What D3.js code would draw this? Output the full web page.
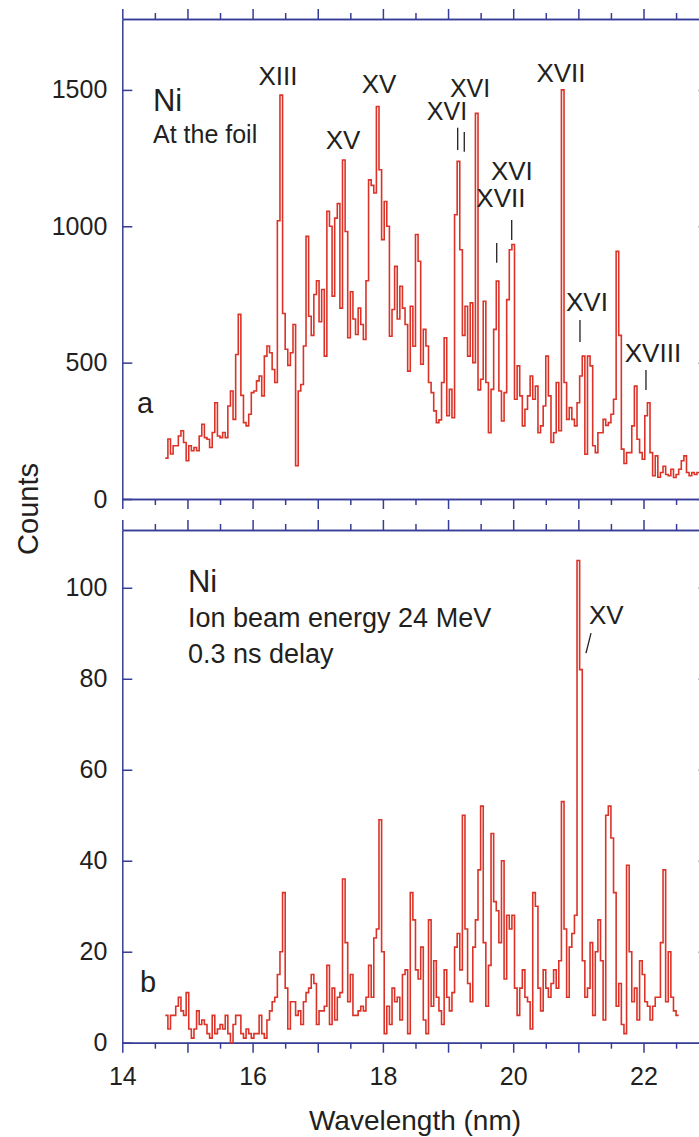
<!DOCTYPE html>
<html><head><meta charset="utf-8">
<script src="https://cdn.jsdelivr.net/npm/d3@7"></script>
<style>body{margin:0;background:#fff}svg{display:block}</style>
</head><body><svg id="c" width="699" height="1137"></svg>
<script>
// ---- data ----
const binStart = 14.66;   // nm, first bin start
const binWidth = 0.04;    // nm
const countsA = [150,220,165,195,195,231,250,207,140,195,177,189,177,231,274,225,219,189,244,353,
231,225,244,225,341,396,292,530,677,380,280,268,311,390,396,433,451,378,524,561,
536,475,427,1020,1481,680,549,490,536,640,122,396,420,561,963,670,600,750,800,650,
768,524,1055,1000,744,1030,1083,700,1243,981,591,760,660,603,700,640,585,800,1170,1150,
1122,1439,1207,951,1091,1000,597,695,853,660,780,700,640,469,707,560,970,872,494,622,
561,427,390,323,280,290,427,591,305,402,298,1042,1238,914,600,707,524,719,500,1414,
400,439,725,427,243,402,622,799,396,286,390,731,914,933,366,488,378,268,329,378,
451,366,414,243,268,341,524,378,207,243,427,250,1500,427,292,335,292,268,353,451,
524,164,524,488,195,170,243,243,292,270,280,311,366,908,600,183,130,170,170,268,
414,219,170,146,305,353,170,85,158,80,97,120,90,85,109,79,90,109,140,158,
97,85,97,90,97,97];
const countsB = [6,3,6,6,8,10,7,6,11,3,1,3,7,4,5,4,2,1,6,2,
3,4,3,6,2,0,4,6,6,2,1,3,2,1,2,2,6,2,1,5,
7,9,10,15,20,33,12,3,9,9,6,7,4,9,11,12,15,13,4,7,
7,8,17,4,12,5,10,11,36,22,9,15,6,6,7,8,7,10,17,10,
23,25,49,20,2,8,4,12,9,10,5,15,16,2,33,27,16,14,21,5,
2,27,8,18,10,7,4,16,10,7,11,21,24,16,50,25,13,9,21,27,
38,52,22,8,17,46,31,29,22,40,14,28,25,28,12,6,12,16,10,9,
3,33,30,12,7,16,12,10,13,16,12,18,53,25,10,21,24,28,106,82,
18,10,12,22,6,20,27,18,5,50,52,45,33,8,13,4,2,39,20,9,
12,5,18,15,9,8,5,8,10,10,22,38,9,20,10,7,6];
const yTicksA = [0,500,1000,1500];
const yTicksB = [0,20,40,60,80,100];
const xMajor = [14,15,16,17,18,19,20,21,22,23];
const xMinor = [14.5,15.5,16.5,17.5,18.5,19.5,20.5,21.5,22.5];
const xLabels = [14,16,18,20,22];
// annotations in data units [text, wavelength, count, anchor, size]
const notesA = [
  ["Ni",14.471,1423,"start",31],["At the foil",14.471,1306,"start",25],
  ["XIII",16.39,1518,"middle",26],["XV",17.388,1283,"middle",26],["XV",17.941,1489,"middle",26],
  ["XVI",19.338,1474,"middle",25],["XVI",18.984,1390,"middle",25],["XVI",19.98,1170,"middle",26],
  ["XVII",19.811,1071,"middle",26],["XVII",20.733,1529,"middle",26],["XVI",21.132,689,"middle",26],
  ["XVIII",22.145,502,"middle",26],["a",14.226,315,"start",29]];
const barsA = [[19.148,1361,1280],[19.249,1346,1273],[19.977,1023,950],[19.747,939,866],[21.025,656,576],[22.038,473,400]];
const notesB = [
  ["Ni",15.008,99.05,"start",31],["Ion beam energy 24 MeV",15.008,91.36,"start",27],
  ["0.3 ns delay",15.008,83.45,"start",27],["XV",21.163,92.02,"start",26],["b",14.272,11.14,"start",29]];
const slashB = [[21.117,85.65],[21.194,90.05]];

// ---- drawing ----
const svg = d3.select("#c");
const AX = "#363c97", RED = "#dc3328", TXT = "#231f20";
const FONT = "'Liberation Sans', Arial, Helvetica, sans-serif";
const x = d3.scaleLinear().domain([14,23]).range([122.3,708.65]);
const yA = d3.scaleLinear().domain([0,1760]).range([499,19]);
const yB = d3.scaleLinear().domain([0,112.7]).range([1042.7,530]);

function styleAxis(g){
  g.selectAll("path,line").attr("stroke",AX).attr("stroke-width",1.5);
  g.selectAll("text").attr("fill",TXT).attr("font-family",FONT).attr("font-size",25);
}
function frame(y, ticks, withLabels){
  const [yb, yt] = y.range();
  svg.append("g").attr("transform",`translate(${x(14)},0)`)
    .call(d3.axisLeft(y).tickValues(ticks).tickSize(-10).tickSizeOuter(0).tickPadding(15).tickFormat(d3.format("d")))
    .call(styleAxis);
  svg.append("g").attr("transform",`translate(${x(23)},0)`)
    .call(d3.axisRight(y).tickValues(ticks).tickSize(-10).tickSizeOuter(0).tickFormat(""))
    .call(styleAxis);
  svg.append("g").attr("transform",`translate(0,${yt})`)
    .call(d3.axisTop(x).tickValues(xMajor).tickSize(10).tickSizeOuter(0).tickFormat("")).call(styleAxis);
  svg.append("g").attr("transform",`translate(0,${yt})`)
    .call(d3.axisTop(x).tickValues(xMinor).tickSize(6).tickSizeOuter(0).tickFormat("")).call(styleAxis);
  svg.append("g").attr("transform",`translate(0,${yb})`)
    .call(d3.axisBottom(x).tickValues(xMajor).tickSize(10).tickSizeOuter(0).tickPadding(15)
      .tickFormat(d => withLabels && xLabels.includes(d) ? d : "")).call(styleAxis);
  svg.append("g").attr("transform",`translate(0,${yb})`)
    .call(d3.axisBottom(x).tickValues(xMinor).tickSize(6).tickSizeOuter(0).tickFormat("")).call(styleAxis);
}
frame(yA, yTicksA, false);
frame(yB, yTicksB, true);

function spectrum(counts, y){
  const pts = counts.map((c,i) => [binStart + i*binWidth, c]);
  pts.push([binStart + counts.length*binWidth, counts[counts.length-1]]);
  const line = d3.line().x(d => x(d[0])).y(d => y(d[1])).curve(d3.curveStepAfter);
  svg.append("path").attr("d", line(pts)).attr("fill","none")
    .attr("stroke",RED).attr("stroke-width",1.6).attr("stroke-linejoin","miter");
}
spectrum(countsA, yA);
spectrum(countsB, yB);

function notes(list, y){
  svg.append("g").selectAll("text").data(list).join("text")
    .attr("x", d => x(d[1])).attr("y", d => y(d[2]))
    .attr("text-anchor", d => d[3]).attr("font-size", d => d[4])
    .attr("font-family", FONT).attr("fill", TXT).text(d => d[0]);
}
notes(notesA, yA);
notes(notesB, yB);
svg.append("g").selectAll("line").data(barsA).join("line")
  .attr("x1", d => x(d[0])).attr("x2", d => x(d[0]))
  .attr("y1", d => yA(d[1])).attr("y2", d => yA(d[2]))
  .attr("stroke", TXT).attr("stroke-width", 1.3);
svg.append("line")
  .attr("x1", x(slashB[0][0])).attr("y1", yB(slashB[0][1]))
  .attr("x2", x(slashB[1][0])).attr("y2", yB(slashB[1][1]))
  .attr("stroke", TXT).attr("stroke-width", 1.3);

svg.append("text").attr("x", 415).attr("y", 1130).attr("text-anchor","middle")
  .attr("font-family",FONT).attr("font-size",28).attr("fill",TXT).text("Wavelength (nm)");
svg.append("text").attr("transform","translate(38,509) rotate(-90)").attr("text-anchor","middle")
  .attr("font-family",FONT).attr("font-size",29).attr("fill",TXT).text("Counts");
</script></body></html>
